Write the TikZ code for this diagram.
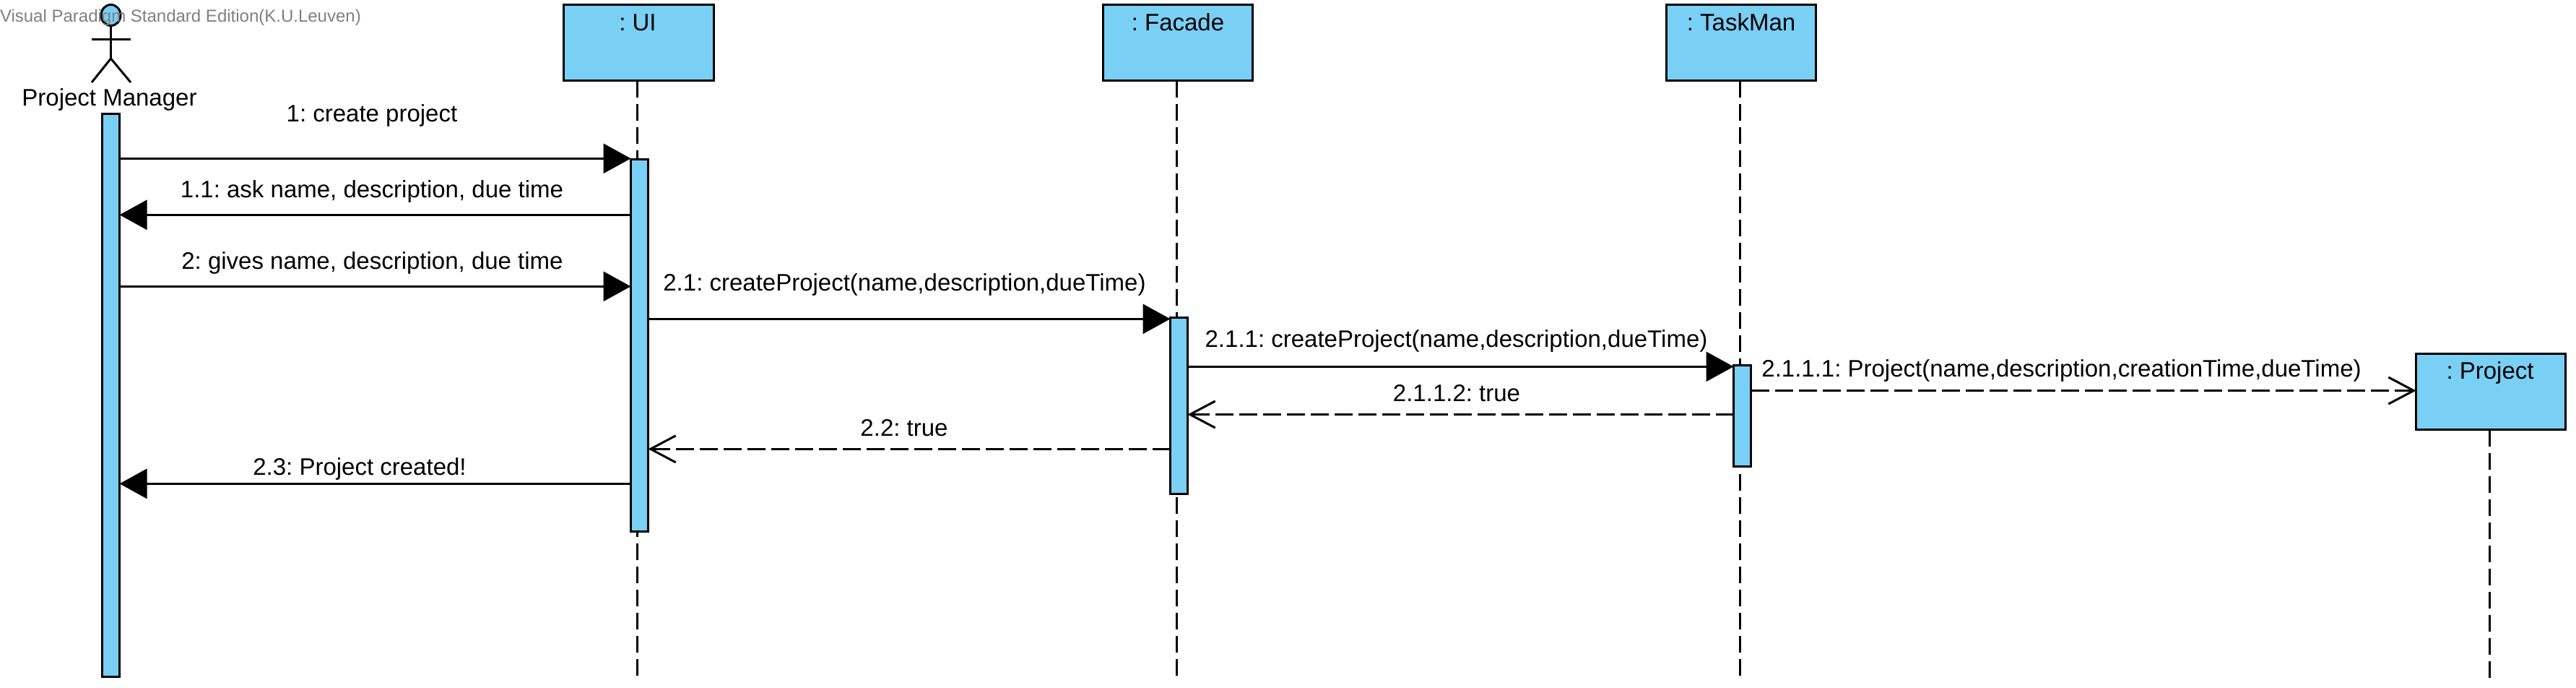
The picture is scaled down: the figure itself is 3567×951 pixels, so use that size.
\documentclass[tikz,border=0pt]{standalone}
\usepackage{fontspec}
\setmainfont{Liberation Sans}
\frenchspacing
\usetikzlibrary{arrows.meta,shapes.geometric}
\definecolor{umlblue}{HTML}{7ACFF5}
\tikzset{
  objbox/.style={draw=black,line width=3pt,fill=umlblue,rectangle,inner sep=0pt,outer sep=0pt},
  activ/.style={draw=black,line width=3pt,fill=umlblue,rectangle,inner sep=0pt,outer sep=0pt,minimum width=24pt},
  lifeline/.style={draw=black,line width=3pt,dash pattern=on 23pt off 9pt},
  sync/.style={draw=black,line width=3pt,-{Triangle[length=38pt,width=41pt]}},
  retn/.style={draw=black,line width=3pt,dash pattern=on 25pt off 8pt,-{Straight Barb[length=35pt,width=37pt,line width=3pt]}},
  txt/.style={font=\fontsize{33}{36}\selectfont,inner sep=0pt,outer sep=0pt,anchor=base},
  wmark/.style={font=\fontsize{24}{30}\selectfont,text=black!50,inner sep=0pt,outer sep=0pt,anchor=base west},
  stick/.style={draw=black,line width=3pt}
}
\begin{document}
\begin{tikzpicture}[x=1pt,y=-1pt]
\useasboundingbox[fill=white] (0,0) rectangle (3567,951);
% object boxes
\node[objbox,minimum width=208pt,minimum height=105pt] (uiBox) at (884,59) {};
\node[objbox,minimum width=207pt,minimum height=105pt] (faBox) at (1631,59) {};
\node[objbox,minimum width=207pt,minimum height=105pt] (tmBox) at (2411,59) {};
\node[objbox,minimum width=207pt,minimum height=105pt] (prBox) at (3449,542) {};
\node[txt] (uiT) at (883,42) {: UI};
\node[txt] (faT) at (1631,42) {: Facade};
\node[txt] (tmT) at (2411,42) {: TaskMan};
\node[txt] (prT) at (3448,524) {: Project};
% lifelines
\coordinate (uiEnd) at (882.5,939);
\coordinate (faEnd) at (1629.5,939);
\coordinate (tmEnd) at (2409.5,939);
\coordinate (prEnd) at (3447.5,939);
\draw[lifeline] (uiBox.south -| uiEnd) -- (uiEnd);
\draw[lifeline] (faBox.south -| faEnd) -- (faEnd);
\draw[lifeline] (tmBox.south -| tmEnd) -- (tmEnd);
\draw[lifeline] (prBox.south -| prEnd) -- (prEnd);
% actor
\node[draw=black,line width=3pt,fill=umlblue,ellipse,inner sep=0pt,outer sep=0pt,minimum width=27pt,minimum height=29pt] (head) at (153.5,21) {};
\coordinate (hip) at (153.5,81);
\coordinate (armL) at (127,54.5);
\coordinate (armR) at (181,54.5);
\coordinate (legL) at (127,114);
\coordinate (legR) at (181,114);
\draw[stick] (head.south) -- (hip);
\draw[stick] (armL) -- (armR);
\draw[stick] (legL) -- (hip) -- (legR);
\node[txt] (pmT) at (151.5,146) {Project Manager};
% activations
\node[activ,minimum height=779pt] (pmA) at (153.5,546.5) {};
\node[activ,minimum height=515pt] (uiA) at (885.5,477.5) {};
\node[activ,minimum height=244pt] (faA) at (1632.5,561.5) {};
\node[activ,minimum height=140pt] (tmA) at (2412.5,575) {};
% message levels
\coordinate (m1) at (0,219.3);
\coordinate (m11) at (0,297.3);
\coordinate (m2) at (0,396.3);
\coordinate (m21) at (0,441.3);
\coordinate (m211) at (0,507.3);
\coordinate (m2111) at (0,540.5);
\coordinate (m2112) at (0,573.5);
\coordinate (m22) at (0,621.3);
\coordinate (m23) at (0,669.3);
% messages
\draw[sync] (pmA.east |- m1) -- (uiA.west |- m1);
\draw[sync] (uiA.west |- m11) -- (pmA.east |- m11);
\draw[sync] (pmA.east |- m2) -- (uiA.west |- m2);
\draw[sync] (uiA.east |- m21) -- (faA.west |- m21);
\draw[sync] (faA.east |- m211) -- (tmA.west |- m211);
\draw[retn] (tmA.east |- m2111) -- (prBox.west |- m2111);
\draw[retn] (tmA.west |- m2112) -- (faA.east |- m2112);
\draw[retn] (faA.west |- m22) -- (uiA.east |- m22);
\draw[sync] (uiA.west |- m23) -- (pmA.east |- m23);
% message labels
\node[txt] (l1) at (515,168) {1: create project};
\node[txt] (l11) at (515,273) {1.1: ask name, description, due time};
\node[txt] (l2) at (515.5,372) {2: gives name, description, due time};
\node[txt] (l21) at (1252.5,402.5) {2.1: createProject(name,description,dueTime)};
\node[txt] (l211) at (2016.5,480) {2.1.1: createProject(name,description,dueTime)};
\node[txt] (l2111) at (2854.5,521) {2.1.1.1: Project(name,description,creationTime,dueTime)};
\node[txt] (l2112) at (2017,555) {2.1.1.2: true};
\node[txt] (l22) at (1252,603) {2.2: true};
\node[txt] (l23) at (498,657) {2.3: Project created!};
% watermark
\node[wmark] (wm) at (0,30) {Visual Paradigm Standard Edition(K.U.Leuven)};
\end{tikzpicture}
\end{document}
